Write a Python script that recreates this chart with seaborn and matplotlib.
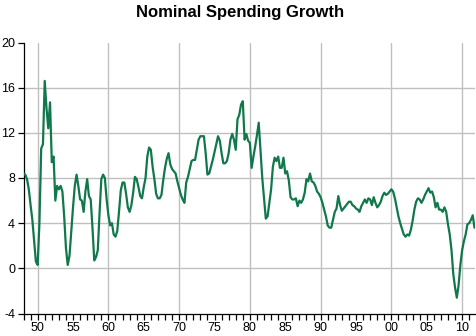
import numpy as np
import pandas as pd
import matplotlib
matplotlib.use("Agg")
import matplotlib.pyplot as plt
from matplotlib.ticker import MultipleLocator, FuncFormatter
import seaborn as sns

# Year-over-year growth of nominal spending (%), quarterly, from 1948 Q1
growth_1940s = [8.4, 8.3, 7.9, 7.0,
                5.6, 4.3, 2.4, 0.6]
growth_1950s = [0.3, 4.0, 10.6, 11.0,
                16.6, 14.2, 12.4, 14.7,
                9.4, 9.9, 6.0, 7.3,
                7.0, 7.3, 6.8, 4.6,
                1.8, 0.3, 1.1, 3.3,
                5.4, 7.3, 8.3, 7.3,
                6.1, 6.0, 5.0, 6.8,
                7.9, 6.4, 6.1, 3.6,
                0.7, 1.0, 1.6, 4.9,
                7.9, 8.3, 8.0, 6.1]
growth_1960s = [4.7, 3.8, 4.0, 3.0,
                2.8, 3.3, 5.0, 6.9,
                7.6, 7.6, 6.6, 5.4,
                5.0, 5.6, 6.7, 8.1,
                7.9, 7.2, 6.4, 6.2,
                7.2, 8.0, 9.9, 10.7,
                10.5, 9.0, 7.9, 6.6,
                6.2, 6.2, 6.5, 7.8,
                8.9, 9.7, 10.2, 9.2,
                8.8, 8.6, 8.4, 7.7]
growth_1970s = [7.1, 6.5, 6.1, 5.8,
                7.6, 8.1, 8.8, 9.5,
                9.6, 9.6, 10.5, 11.4,
                11.7, 11.7, 11.7, 10.2,
                8.3, 8.4, 9.0, 9.6,
                10.3, 11.0, 11.7, 11.3,
                10.2, 9.3, 9.3, 9.5,
                10.2, 11.4, 11.9, 11.4,
                10.5, 13.2, 13.6, 14.5,
                14.8, 11.4, 11.9, 11.3]
growth_1980s = [11.1, 8.9, 9.9, 10.8,
                11.8, 12.9, 10.5, 8.0,
                6.2, 4.4, 4.6, 5.8,
                7.0, 9.0, 9.8, 9.5,
                9.9, 8.9, 8.9, 9.8,
                8.4, 8.6, 7.8, 6.3,
                6.1, 6.1, 6.2, 5.5,
                6.0, 5.8, 6.1, 6.7,
                7.9, 7.7, 8.4, 7.7,
                7.6, 7.3, 6.8, 6.6]
growth_1990s = [6.3, 5.8, 5.2, 4.6,
                3.8, 3.6, 3.6, 4.3,
                5.0, 5.3, 6.4, 5.6,
                5.1, 5.3, 5.5, 5.7,
                5.9, 5.9, 5.6, 5.5,
                5.3, 5.2, 5.0, 5.5,
                5.8, 6.1, 5.8, 6.2,
                6.1, 5.6, 6.3, 5.8,
                5.4, 5.6, 5.9, 6.4,
                6.7, 6.5, 6.6, 6.8]
growth_2000s = [7.0, 6.8, 6.2, 5.4,
                4.6, 4.0, 3.5, 3.0,
                2.8, 3.0, 2.9, 3.4,
                4.2, 5.2, 5.9, 6.2,
                6.1, 5.8, 6.1, 6.5,
                6.8, 7.1, 6.7, 6.8,
                6.3, 5.4, 5.8, 5.2,
                5.2, 5.0, 5.4, 5.0,
                3.9, 3.0, 1.6, -0.5,
                -1.7, -2.6, -1.5, 0.3]
growth_2010s = [1.6, 2.4, 3.0, 3.9,
                4.0, 4.3, 4.7, 3.6]

start_year = 1948
growth = (growth_1940s + growth_1950s + growth_1960s + growth_1970s
          + growth_1980s + growth_1990s + growth_2000s + growth_2010s)
quarter = start_year + np.arange(len(growth)) * 0.25
df = pd.DataFrame({"year": quarter, "growth": growth})

title = "Nominal Spending Growth"
y_gridlines = [0, 4, 8, 12, 16]
decade_gridlines = [1950, 1960, 1970, 1980, 1990, 2000, 2010]

sns.set_style("white")
plt.rcParams["font.family"] = ["Liberation Sans", "DejaVu Sans"]

W, H = 476, 336
fig = plt.figure(figsize=(W / 100, H / 100), dpi=100)
left, right, top, bottom = 23.5, 474.5, 42.5, 313.5
ax = fig.add_axes([left / W, 1 - bottom / H, (right - left) / W, (bottom - top) / H])

grid_col = "#c0c0c0"
for yv in y_gridlines:
    ax.axhline(yv, color=grid_col, lw=1.0, zorder=0)
for xv in decade_gridlines:
    ax.axvline(xv, color=grid_col, lw=1.0, zorder=0)

sns.lineplot(data=df, x="year", y="growth", ax=ax, color="#10784a",
             lw=1.6, estimator=None, zorder=3)

ax.set_xlim(1948, 2011.75)
ax.set_ylim(-4, 20)
ax.set_xlabel("")
ax.set_ylabel("")

for s in ("top", "right"):
    ax.spines[s].set_visible(False)
for s in ("left", "bottom"):
    ax.spines[s].set_color("black")
    ax.spines[s].set_linewidth(0.9)

ax.xaxis.set_major_locator(MultipleLocator(5))
ax.xaxis.set_minor_locator(MultipleLocator(1))
ax.xaxis.set_major_formatter(FuncFormatter(lambda v, p: f"{int(round(v)) % 100:02d}"))
ax.yaxis.set_major_locator(MultipleLocator(4))
ax.yaxis.set_major_formatter(FuncFormatter(lambda v, p: f"{int(round(v))}"))

ax.tick_params(axis="both", which="both", direction="out", length=4,
               width=0.9, color="black", labelsize=9, labelcolor="black")
ax.tick_params(axis="x", which="both", bottom=True, pad=2)
ax.tick_params(axis="y", which="major", left=True, pad=2)
ax.tick_params(axis="y", which="minor", left=False)

fig.text(0.505, 1 - 12 / H, title, ha="center", va="center",
         fontsize=12, fontweight="bold", color="black")

fig.savefig("out.png", dpi=100, facecolor="white")
